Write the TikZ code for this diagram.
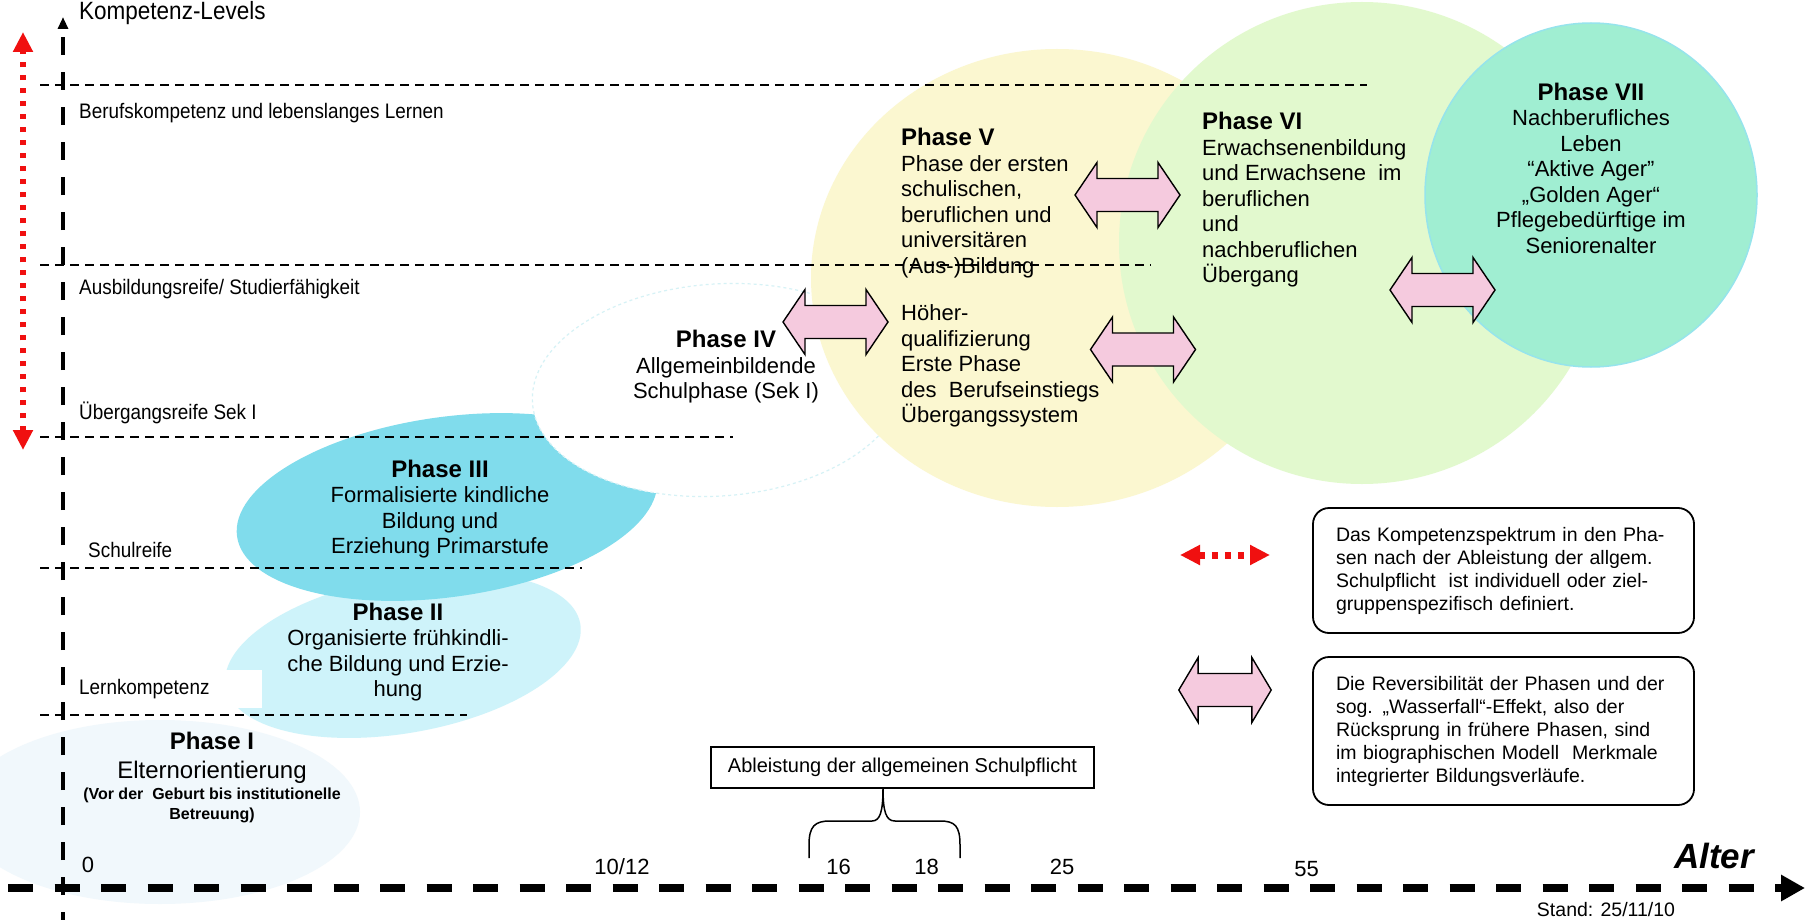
\documentclass[tikz,border=0pt]{standalone}
\usepackage{fontspec}
\setmainfont{Liberation Sans}
\newfontfamily\narrowfont[FakeStretch=0.9]{Liberation Sans}
\usetikzlibrary{arrows.meta}

\definecolor{phaseone}{RGB}{241,248,252}
\definecolor{phasetwo}{RGB}{206,243,250}
\definecolor{phasethree}{RGB}{128,220,236}
\definecolor{phasefour}{RGB}{214,242,246}
\definecolor{phasefive}{RGB}{251,247,208}
\definecolor{phasesix}{RGB}{226,249,206}
\definecolor{phaseseven}{RGB}{160,238,210}
\definecolor{arrowpink}{RGB}{245,202,222}
\definecolor{levelred}{RGB}{240,16,16}

\newcommand{\phasetitle}[1]{{\fontsize{24}{25.5}\selectfont\bfseries #1}}

\tikzset{
  levelline/.style={line width=1.6pt, dash pattern=on 9pt off 6pt},
  levellabel/.style={anchor=base west, inner sep=0pt, font=\narrowfont\fontsize{21}{25}\selectfont},
  agelabel/.style={anchor=base, inner sep=0pt, font=\fontsize{22}{26}\selectfont},
  phasetext/.style={inner sep=0pt, font=\fontsize{22}{25.5}\selectfont},
  notebox/.style={draw, line width=1.8pt, rounded corners=16pt, inner xsep=23pt, inner ysep=0pt,
    text width=335pt, align=left, font=\fontsize{19.5}{23}\selectfont},
  redarrow/.style={levelred, line width=5.5pt, dash pattern=on 5pt off 8pt,
    {Triangle[length=20pt,width=19pt]}-{Triangle[length=20pt,width=19pt]}},
  biarrow/.pic={
    \draw[fill=arrowpink, line width=1.4pt, line join=miter]
      (-52.5,0) -- (-30.5,-32.5) -- (-30.5,-16.5) -- (30.5,-16.5) -- (30.5,-32.5)
      -- (52.5,0) -- (30.5,32.5) -- (30.5,16.5) -- (-30.5,16.5) -- (-30.5,32.5) -- cycle;
  }
}

\begin{document}
\begin{tikzpicture}[x=1pt, y=-1pt]
  \useasboundingbox (0,0) rectangle (1806,920);
  \fill[white] (0,0) rectangle (1806,920);

  % Phase bubbles
  \fill[phaseone] (160,812) ellipse (200 and 92);
  \fill[phasetwo, rotate around={10:(403,655)}] (403,655) ellipse (180 and 78);
  \fill[phasethree, rotate around={8:(447,507)}] (447,507) ellipse (212 and 90);
  \filldraw[fill=white, draw=phasefour, line width=1.2pt, dash pattern=on 3pt off 3pt,
    rotate around={4:(718,390)}] (718,390) ellipse (186 and 106);
  \fill[phasefive] (1057,278) ellipse (246 and 229);
  \fill[phasesix] (1362,243) ellipse (243 and 241);
  \filldraw[fill=phaseseven, draw={rgb,255:red,150;green,228;blue,236}, line width=1.5pt]
    (1591,195) ellipse (166 and 172);

  % Level lines
  \draw[levelline] (40,85) -- (1367,85);
  \draw[levelline] (40,265) -- (1151,265);
  \draw[levelline] (40,437) -- (733,437);
  \draw[levelline] (40,568) -- (582,568);
  \draw[levelline] (40,715) -- (467,715);

  % Axes
  \draw[line width=4.5pt, dash pattern=on 18pt off 17pt, dash phase=10pt,
    -{Triangle[length=12pt,width=10pt]}] (63,920) -- (63,17);
  \draw[line width=8pt, dash pattern=on 25pt off 21.5pt,
    -{Triangle[length=24pt,width=25pt]}] (8,888) -- (1805,888);
  \draw[redarrow] (23,450) -- (23,32);

  % Level labels
  \node[anchor=base west, inner sep=0pt, font=\narrowfont\fontsize{25}{29}\selectfont] (kompetenz) at (79,20) {Kompetenz-Levels};
  \node[levellabel] (beruf) at (79,119) {Berufskompetenz und lebenslanges Lernen};
  \node[levellabel] (ausbildung) at (79,294) {Ausbildungsreife/ Studierfähigkeit};
  \node[levellabel] (uebergang) at (79,419) {Übergangsreife Sek I};
  \node[levellabel] (schule) at (88,557) {Schulreife};
  \node[levellabel, anchor=west, fill=white, inner xsep=7pt, text width=176pt,
    minimum height=38pt] (lernen) at (72,689) {Lernkompetenz};

  % Age labels
  \node[agelabel] (agenull) at (88,872) {0};
  \node[agelabel] (agezehn) at (622,874) {10/12};
  \node[agelabel] (agesechzehn) at (838.5,874) {16};
  \node[agelabel] (ageachtzehn) at (926.5,874) {18};
  \node[agelabel] (agefuenfundzwanzig) at (1062,874) {25};
  \node[agelabel] (agefuenfundfuenfzig) at (1306.5,876) {55};
  \node[anchor=base, inner sep=0pt, font=\fontsize{35}{40}\selectfont\bfseries\itshape] (alter) at (1714,868) {Alter};
  \node[anchor=base, inner sep=0pt, font=\fontsize{19.5}{23}\selectfont] (stand) at (1606,916) {Stand: 25/11/10};

  % Phase texts
  \node[phasetext, align=center, font=\fontsize{24}{29}\selectfont] (phaseI) at (212,758)
    {\textbf{Phase I}\\Elternorientierung};
  \node[inner sep=0pt, align=center, font=\fontsize{16}{20}\selectfont\bfseries] (phaseInote) at (212,805)
    {(Vor der\ \ Geburt bis institutionelle\\Betreuung)};
  \node[phasetext, align=center] (phaseII) at (398,652)
    {\phasetitle{Phase II}\\Organisierte frühkindli-\\che Bildung und Erzie-\\hung};
  \node[phasetext, align=center] (phaseIII) at (440,509)
    {\phasetitle{Phase III}\\Formalisierte kindliche\\Bildung und\\Erziehung Primarstufe};
  \node[phasetext, align=center] (phaseIV) at (726,367)
    {\phasetitle{Phase IV}\\Allgemeinbildende\\Schulphase (Sek I)};
  \node[phasetext, align=left, anchor=west] (phaseV) at (901,203)
    {\phasetitle{Phase V}\\Phase der ersten\\schulischen,\\beruflichen und\\universitären\\(Aus-)Bildung};
  \node[phasetext, align=left, anchor=west] (phaseVb) at (901,366)
    {Höher-\\qualifizierung\\Erste Phase\\des\ \ Berufseinstiegs\\Übergangssystem};
  \node[phasetext, align=left, anchor=west] (phaseVI) at (1202,200)
    {\phasetitle{Phase VI}\\Erwachsenenbildung\\und Erwachsene\ \ im\\beruflichen\\und\\nachberuflichen\\Übergang};
  \node[phasetext, align=center] (phaseVII) at (1591,168)
    {\phasetitle{Phase VII}\\Nachberufliches\\Leben\\“Aktive Ager”\\„Golden Ager“\\Pflegebedürftige im\\Seniorenalter};

  % Double arrows between phases
  \pic (arrowIVV) at (835.5,322) {biarrow};
  \pic (arrowVVIa) at (1127.5,195) {biarrow};
  \pic (arrowVVIb) at (1143,349.5) {biarrow};
  \pic (arrowVIVII) at (1442.5,290) {biarrow};

  % Legend
  \draw[redarrow, line width=7pt, dash pattern=on 6.5pt off 6.5pt] (1180,555) -- (1270,555);
  \pic[xscale=0.88] (arrowlegend) at (1225,690) {biarrow};
  \node[notebox, minimum height=125pt] (notespektrum) at (1503.5,570.5)
    {Das Kompetenzspektrum in den Pha-\\sen nach der Ableistung der allgem.\\Schulpflicht\ \ ist individuell oder ziel-\\gruppenspezifisch definiert.};
  \node[notebox, minimum height=148pt] (notewasserfall) at (1503.5,731)
    {Die Reversibilität der Phasen und der\\sog. „Wasserfall“-Effekt, also der\\Rücksprung in frühere Phasen, sind\\im biographischen Modell\ \ Merkmale\\integrierter Bildungsverläufe.};

  % Schulpflicht box with brace
  \node[draw, line width=1.5pt, minimum width=383pt, minimum height=41pt, inner sep=0pt,
    font=\fontsize{20}{24}\selectfont] (schulpflicht) at (902.5,767.5) {Ableistung der allgemeinen Schulpflicht};
  \coordinate (bracetip) at (883,788);
  \draw[line width=1.5pt] (809,858) -- (809,845) .. controls (809,826) and (815,821) .. (830,821)
    -- (872,821) .. controls (880,821) and (883,812) .. (bracetip)
    .. controls (883,812) and (886,821) .. (895,821) -- (940,821)
    .. controls (955,821) and (960,826) .. (960,845) -- (960,858);
\end{tikzpicture}
\end{document}
